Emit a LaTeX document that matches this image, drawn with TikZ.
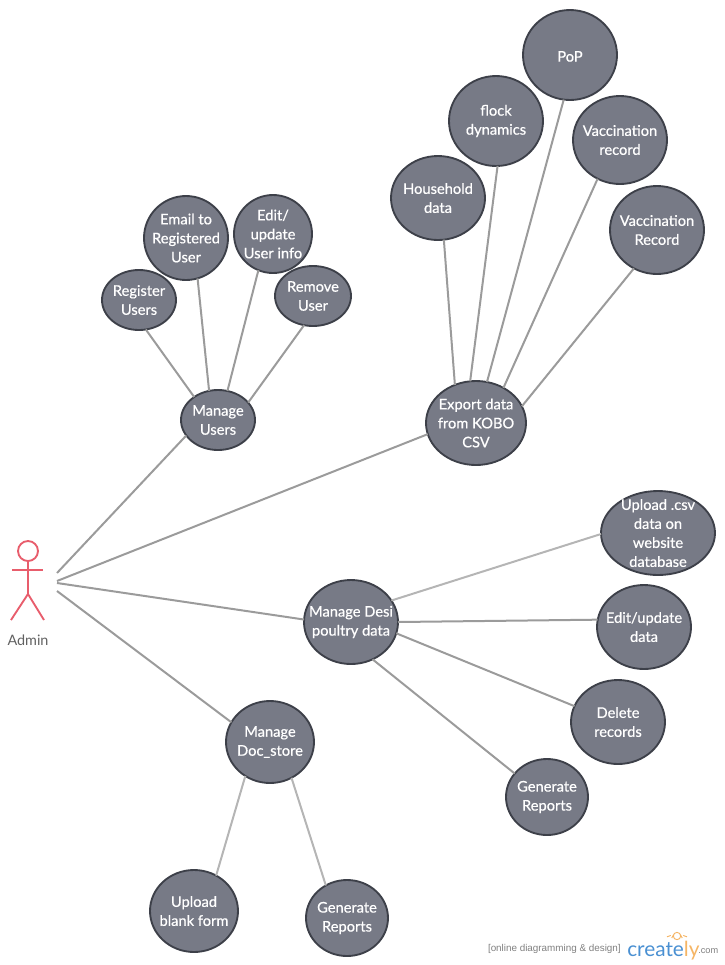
\documentclass[tikz,border=0pt]{standalone}
\usepackage{fontspec}
\setmainfont{Lato}
\newfontfamily\casefont[RawFeature={embolden=0.6}]{Lato}
\newfontfamily\tagfont{Liberation Sans}
\usepackage{xcolor}
\usetikzlibrary{shapes.geometric}
\definecolor{casefill}{HTML}{777A86}
\definecolor{caseline}{HTML}{3D4049}
\definecolor{actorred}{HTML}{E85D6C}
\definecolor{linkdark}{HTML}{9B9B9B}
\definecolor{linklight}{HTML}{B5B5B5}
\definecolor{brandblue}{HTML}{4A90D2}
\definecolor{brandorange}{HTML}{F5B565}
\tikzset{
  usecase/.style 2 args={ % image of a use case bubble
    ellipse, draw=caseline, fill=casefill, line width=1.4pt,
    minimum width=#1*0.75pt, minimum height=#2*0.75pt,
    inner xsep=-12pt, inner ysep=-12pt, outer sep=0pt,
    text=white, align=center,
    font=\casefont\fontsize{11}{14.25}\selectfont,
    execute at begin node={\rule{0pt}{10pt}}
  },
  link/.style={line width=1.5pt, draw=linkdark},
  lightlink/.style={line width=1.5pt, draw=linklight},
  actor/.style={line width=1.4pt, draw=actorred},
  bulb/.style={line width=0.7pt, draw=brandorange}
}
\begin{document}
\begin{tikzpicture}[x=0.75pt,y=-0.75pt]
    \useasboundingbox (0,0) rectangle (725,965);

    % export branch
    \node[usecase={94}{90}] (pop) at (570,55) {PoP};
    \node[usecase={94}{90}] (flock) at (496,121) {flock\\dynamics};
    \node[usecase={94}{88}] (vacc_a) at (620,140) {Vaccination\\record};
    \node[usecase={94}{84}] (household) at (438,198) {Household\\data};
    \node[usecase={94}{88}] (vacc_b) at (657,230) {Vaccination\\Record};
    \node[usecase={100}{84}] (export) at (476,423) {Export data\\from KOBO\\CSV};

    % users branch
    \node[usecase={84}{84}] (email) at (186,238) {Email to\\Registered\\User};
    \node[usecase={78}{78}] (edit_user) at (273,234) {Edit/\\update\\User info};
    \node[usecase={74}{60}] (register) at (139,300) {Register\\Users};
    \node[usecase={76}{60}] (remove) at (313,296) {Remove\\User};
    \node[usecase={74}{60}] (users) at (218,420) {Manage\\Users};

    % desi poultry branch
    \node[usecase={114}{84}] (upload_csv) at (658,533) {Upload .csv\\data on\\website\\database};
    \node[usecase={94}{84}] (edit_data) at (644,627) {Edit/update\\data};
    \node[usecase={94}{84}] (desi) at (351,622) {Manage Desi\\poultry data};
    \node[usecase={94}{84}] (delete) at (618,722) {Delete\\records};
    \node[usecase={82}{76}] (reports_a) at (547,797) {Generate\\Reports};

    % doc store branch
    \node[usecase={88}{82}] (docstore) at (270,742) {Manage\\Doc\_store};
    \node[usecase={88}{82}] (blank) at (194,911) {Upload\\blank form};
    \node[usecase={82}{76}] (reports_b) at (347,918) {Generate\\Reports};

    % actor
    \node[circle, actor, minimum size=15pt, inner sep=0pt] (head) at (28,551) {};
    \coordinate (hip) at (28,594);
    \coordinate (arm_l) at (12,570);
    \coordinate (arm_r) at (43,570);
    \coordinate (foot_l) at (11,620);
    \coordinate (foot_r) at (44,620);
    \draw[actor] (head.south) -- (hip);
    \draw[actor] (arm_l) -- (arm_r);
    \draw[actor] (foot_l) -- (hip) -- (foot_r);
    \node[text=black!62, font=\fontsize{10.8}{12}\selectfont] (admin) at (28,640) {Admin};

    \coordinate (admin_a) at (57,573);
    \coordinate (admin_b) at (57,581);
    \coordinate (admin_c) at (57,583);
    \coordinate (admin_d) at (57,591);

    \draw[link] (admin_a) -- (users.206);
    \draw[link] (admin_b) -- (export.193);
    \draw[link] (admin_c) -- (desi.177);
    \draw[link] (admin_d) -- (docstore.153);

    \draw[link] (users.136) -- (register.-77);
    \draw[link] (users.107) -- (email.-74);
    \draw[link] (users.72) -- (edit_user.-112);
    \draw[link] (users.30) -- (remove.-107);

    \draw[link] (export.119) -- (household.-82);
    \draw[link] (export.98) -- (flock.-88);
    \draw[link] (export.75) -- (pop.-98);
    \draw[link] (export.52) -- (vacc_a.-120);
    \draw[link] (export.20) -- (vacc_b.-121);

    \draw[lightlink] (desi.28) -- (upload_csv.181);
    \draw[link] (desi.0) -- (edit_data.171);
    \draw[link] (desi.-14) -- (delete.160);
    \draw[link] (desi.-60) -- (reports_a.144);

    \draw[lightlink] (docstore.234) -- (blank.58);
    \draw[lightlink] (docstore.-59) -- (reports_b.123);

    % watermark
    \node[text=black!50, font=\tagfont\fontsize{7.4}{8}\selectfont, anchor=east, inner sep=0pt] (tagline) at (621,949) {[online diagramming \& design]};
    \node[anchor=west, inner sep=0pt, font=\fontsize{15.6}{18}\selectfont] (brand) at (627,951) {\textcolor{brandblue}{create}\textcolor{brandorange}{ly}};
    \node[anchor=west, inner sep=0pt, text=black!50, font=\tagfont\fontsize{6.9}{8}\selectfont] (dotcom) at (698,951) {.com};
    \node[circle, bulb, minimum size=5.5pt, inner sep=0pt] (lamp) at (677,936) {};
    \foreach \a in {20,60,120,160}
      \draw[bulb] (lamp.\a) ++(\a:2.5) -- ++(\a:4);
\end{tikzpicture}
\end{document}
